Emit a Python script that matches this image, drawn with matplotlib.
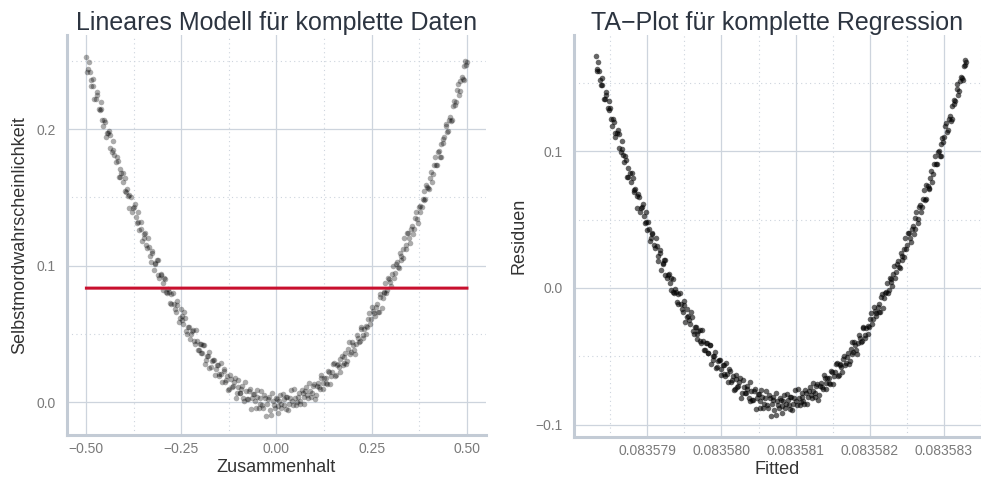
import numpy as np
import matplotlib.pyplot as plt
from matplotlib.ticker import MultipleLocator, FuncFormatter

# === Daten (zwei Teilstichproben) ===
zusammenhalt_a = [
    -0.499, -0.496, -0.489, -0.486, -0.481, -0.474, -0.471, -0.464, -0.461, -0.455,
    -0.449, -0.446, -0.439, -0.436, -0.429, -0.426, -0.420, -0.414, -0.411, -0.404,
    -0.399, -0.396, -0.389, -0.386, -0.380, -0.375, -0.370, -0.364, -0.361, -0.355,
    -0.349, -0.346, -0.340, -0.334, -0.330, -0.326, -0.319, -0.315, -0.311, -0.304,
    -0.299, -0.295, -0.290, -0.284, -0.280, -0.276, -0.269, -0.265, -0.260, -0.254,
    -0.249, -0.245, -0.240, -0.234, -0.230, -0.225, -0.219, -0.215, -0.210, -0.204,
    -0.199, -0.196, -0.190, -0.184, -0.180, -0.176, -0.169, -0.165, -0.160, -0.154,
    -0.150, -0.146, -0.139, -0.135, -0.130, -0.124, -0.120, -0.115, -0.110, -0.104,
    -0.100, -0.095, -0.090, -0.084, -0.080, -0.074, -0.070, -0.065, -0.059, -0.055,
    -0.050, -0.044, -0.040, -0.035, -0.029, -0.025, -0.020, -0.014, -0.010, -0.005,
    0.001, 0.004, 0.009, 0.013, 0.019, 0.024, 0.028, 0.033, 0.039, 0.043,
    0.048, 0.054, 0.058, 0.063, 0.069, 0.073, 0.078, 0.084, 0.088, 0.093,
    0.099, 0.103, 0.108, 0.114, 0.118, 0.123, 0.129, 0.133, 0.138, 0.144,
    0.148, 0.153, 0.159, 0.163, 0.168, 0.174, 0.178, 0.183, 0.189, 0.193,
    0.198, 0.204, 0.208, 0.213, 0.219, 0.223, 0.228, 0.234, 0.238, 0.243,
    0.249, 0.253, 0.258, 0.264, 0.268, 0.273, 0.279, 0.283, 0.288, 0.294,
    0.298, 0.303, 0.309, 0.313, 0.318, 0.324, 0.328, 0.333, 0.339, 0.343,
    0.348, 0.354, 0.358, 0.363, 0.369, 0.373, 0.378, 0.384, 0.388, 0.393,
    0.399, 0.403, 0.408, 0.414, 0.418, 0.423, 0.429, 0.433, 0.438, 0.444,
    0.448, 0.453, 0.459, 0.463, 0.468, 0.474, 0.478, 0.483, 0.489, 0.493,
    0.498,
]
selbstmord_a = [
    0.253, 0.244, 0.242, 0.232, 0.232, 0.222, 0.227, 0.214, 0.215, 0.202,
    0.205, 0.197, 0.199, 0.186, 0.185, 0.181, 0.180, 0.165, 0.171, 0.161,
    0.164, 0.154, 0.151, 0.152, 0.139, 0.143, 0.136, 0.139, 0.126, 0.127,
    0.120, 0.124, 0.113, 0.114, 0.103, 0.109, 0.101, 0.104, 0.093, 0.093,
    0.087, 0.091, 0.081, 0.083, 0.073, 0.079, 0.072, 0.066, 0.074, 0.062,
    0.063, 0.057, 0.062, 0.050, 0.055, 0.050, 0.053, 0.043, 0.045, 0.038,
    0.043, 0.036, 0.042, 0.031, 0.034, 0.025, 0.030, 0.031, 0.024, 0.027,
    0.019, 0.021, 0.024, 0.015, 0.019, 0.010, 0.017, 0.012, 0.018, 0.007,
    0.011, 0.007, 0.012, 0.001, 0.008, 0.002, 0.010, 0.003, 0.006, -0.004,
    0.004, -0.001, 0.008, -0.004, 0.003, -0.001, 0.004, -0.009, 0.001, -0.004,
    0.002, -0.003, 0.005, -0.001, 0.002, -0.005, 0.004, -0.001, 0.009, -0.002,
    0.003, 0.000, 0.007, -0.001, 0.007, 0.004, 0.011, 0.003, 0.008, 0.007,
    0.013, 0.005, 0.014, 0.010, 0.018, 0.014, 0.018, 0.013, 0.022, 0.019,
    0.028, 0.019, 0.027, 0.026, 0.032, 0.027, 0.033, 0.028, 0.039, 0.035,
    0.044, 0.038, 0.043, 0.047, 0.045, 0.054, 0.047, 0.056, 0.055, 0.065,
    0.061, 0.067, 0.063, 0.072, 0.066, 0.079, 0.076, 0.081, 0.080, 0.091,
    0.088, 0.094, 0.091, 0.101, 0.099, 0.109, 0.104, 0.112, 0.112, 0.124,
    0.120, 0.127, 0.123, 0.135, 0.134, 0.143, 0.139, 0.149, 0.148, 0.159,
    0.157, 0.164, 0.161, 0.174, 0.174, 0.183, 0.180, 0.189, 0.190, 0.202,
    0.198, 0.207, 0.206, 0.217, 0.218, 0.229, 0.225, 0.235, 0.237, 0.246,
    0.247,
]
zusammenhalt_b = [
    -0.497, -0.493, -0.487, -0.483, -0.478, -0.472, -0.467, -0.462, -0.457, -0.452,
    -0.447, -0.443, -0.437, -0.432, -0.428, -0.422, -0.417, -0.412, -0.408, -0.402,
    -0.397, -0.393, -0.387, -0.382, -0.378, -0.372, -0.367, -0.363, -0.357, -0.352,
    -0.348, -0.342, -0.337, -0.332, -0.327, -0.322, -0.318, -0.312, -0.308, -0.302,
    -0.297, -0.292, -0.287, -0.282, -0.278, -0.272, -0.267, -0.262, -0.257, -0.252,
    -0.247, -0.242, -0.237, -0.232, -0.227, -0.222, -0.217, -0.212, -0.207, -0.202,
    -0.197, -0.192, -0.187, -0.182, -0.177, -0.172, -0.167, -0.162, -0.157, -0.152,
    -0.147, -0.142, -0.137, -0.132, -0.127, -0.122, -0.117, -0.112, -0.107, -0.102,
    -0.097, -0.092, -0.087, -0.082, -0.077, -0.072, -0.067, -0.062, -0.057, -0.052,
    -0.047, -0.042, -0.037, -0.032, -0.027, -0.022, -0.017, -0.012, -0.007, -0.002,
    0.003, 0.007, 0.011, 0.016, 0.021, 0.026, 0.031, 0.036, 0.041, 0.046,
    0.051, 0.056, 0.061, 0.066, 0.071, 0.076, 0.081, 0.086, 0.091, 0.096,
    0.101, 0.106, 0.111, 0.116, 0.121, 0.126, 0.131, 0.136, 0.141, 0.146,
    0.151, 0.156, 0.161, 0.166, 0.171, 0.176, 0.181, 0.186, 0.191, 0.196,
    0.201, 0.206, 0.211, 0.216, 0.221, 0.226, 0.231, 0.236, 0.241, 0.246,
    0.251, 0.256, 0.261, 0.266, 0.271, 0.276, 0.281, 0.286, 0.291, 0.296,
    0.301, 0.306, 0.311, 0.316, 0.321, 0.326, 0.331, 0.336, 0.341, 0.346,
    0.351, 0.356, 0.361, 0.366, 0.371, 0.376, 0.381, 0.386, 0.391, 0.396,
    0.401, 0.406, 0.411, 0.416, 0.421, 0.426, 0.431, 0.436, 0.441, 0.446,
    0.451, 0.456, 0.461, 0.466, 0.471, 0.476, 0.481, 0.486, 0.491, 0.496,
    0.500,
]
selbstmord_b = [
    0.242, 0.249, 0.236, 0.237, 0.222, 0.225, 0.215, 0.220, 0.207, 0.207,
    0.194, 0.197, 0.196, 0.183, 0.191, 0.176, 0.177, 0.165, 0.168, 0.168,
    0.155, 0.156, 0.142, 0.150, 0.142, 0.145, 0.131, 0.132, 0.132, 0.118,
    0.123, 0.115, 0.120, 0.107, 0.111, 0.097, 0.102, 0.104, 0.091, 0.094,
    0.082, 0.090, 0.080, 0.081, 0.072, 0.080, 0.068, 0.071, 0.059, 0.068,
    0.060, 0.066, 0.052, 0.055, 0.046, 0.052, 0.045, 0.053, 0.038, 0.043,
    0.036, 0.042, 0.028, 0.034, 0.037, 0.026, 0.031, 0.020, 0.027, 0.021,
    0.029, 0.015, 0.023, 0.016, 0.009, 0.020, 0.011, 0.015, 0.003, 0.016,
    0.007, 0.010, 0.003, 0.015, 0.002, 0.008, -0.005, 0.006, 0.001, 0.009,
    -0.004, 0.003, -0.002, 0.005, -0.010, 0.002, -0.006, 0.007, -0.002, 0.003,
    -0.008, 0.001, -0.004, 0.006, -0.002, 0.004, -0.006, 0.003, 0.001, 0.010,
    -0.002, 0.004, 0.001, 0.009, -0.001, 0.008, 0.005, 0.014, 0.004, 0.012,
    0.002, 0.012, 0.011, 0.020, 0.010, 0.018, 0.014, 0.023, 0.013, 0.022,
    0.029, 0.020, 0.028, 0.022, 0.034, 0.029, 0.036, 0.030, 0.044, 0.037,
    0.042, 0.035, 0.049, 0.044, 0.055, 0.049, 0.054, 0.050, 0.061, 0.057,
    0.070, 0.065, 0.070, 0.066, 0.077, 0.069, 0.080, 0.087, 0.082, 0.090,
    0.085, 0.100, 0.095, 0.103, 0.098, 0.107, 0.106, 0.120, 0.115, 0.124,
    0.117, 0.129, 0.127, 0.139, 0.131, 0.144, 0.143, 0.155, 0.149, 0.158,
    0.156, 0.169, 0.167, 0.180, 0.174, 0.184, 0.180, 0.193, 0.194, 0.204,
    0.199, 0.209, 0.207, 0.221, 0.220, 0.233, 0.228, 0.238, 0.236, 0.250,
    0.249,
]

# Koeffizienten des linearen Modells (praktisch flach)
fit_intercept = 0.0835808
fit_slope = 5.0e-6

x = np.array(zusammenhalt_a + zusammenhalt_b)
y = np.array(selbstmord_a + selbstmord_b)
fitted = fit_intercept + fit_slope * x
residuen = y - fitted

# === Stil ===
plt.rcParams['font.family'] = ['Liberation Sans', 'DejaVu Sans']
grid_col = '#CDD4DD'
spine_col = '#C3CBD5'
title_col = '#2C3440'
label_col = '#333333'
tick_col = '#7A7A7A'


def fmt(digits):
    def f(v, pos):
        return f'{round(v, 9) + 0.0:.{digits}f}'.replace('-', '\u2212')
    return FuncFormatter(f)


def style_axes(ax):
    for s in ['top', 'right']:
        ax.spines[s].set_visible(False)
    for s in ['left', 'bottom']:
        ax.spines[s].set_color(spine_col)
        ax.spines[s].set_linewidth(2.2)
    ax.tick_params(which='both', length=0, labelsize=10, labelcolor=tick_col)
    ax.tick_params(axis='x', pad=5)
    ax.tick_params(axis='y', pad=8)
    ax.grid(which='major', color=grid_col, linewidth=0.9)
    ax.grid(which='minor', color=grid_col, linewidth=0.8, linestyle=(0, (1, 3)))
    ax.set_axisbelow(True)


fig = plt.figure(figsize=(9.81, 4.83), dpi=100)
ax1 = fig.add_axes([0.0683, 0.0994, 0.4271, 0.8281])
ax2 = fig.add_axes([0.585, 0.0952, 0.415, 0.8323])

# --- links: Lineares Modell ---
ax1.scatter(x, y, s=16, color='black', alpha=0.33, linewidths=0, zorder=2)
x_line = np.array([x.min(), x.max()])
ax1.plot(x_line, fit_intercept + fit_slope * x_line, color='#C8102E', linewidth=2.2, zorder=3)
ax1.set_xlim(-0.55, 0.55)
ax1.set_ylim(-0.024, 0.269)
ax1.xaxis.set_major_locator(MultipleLocator(0.25))
ax1.xaxis.set_minor_locator(MultipleLocator(0.125))
ax1.xaxis.set_major_formatter(fmt(2))
ax1.yaxis.set_major_locator(MultipleLocator(0.1))
ax1.yaxis.set_minor_locator(MultipleLocator(0.05))
ax1.yaxis.set_major_formatter(fmt(1))
style_axes(ax1)
ax1.set_title('Lineares Modell für komplette Daten', fontsize=18, color=title_col, pad=3)
ax1.set_xlabel('Zusammenhalt', fontsize=13, color=label_col, labelpad=2)
ax1.set_ylabel('Selbstmordwahrscheinlichkeit', fontsize=13, color=label_col, labelpad=6)

# --- rechts: TA-Plot ---
ax2.scatter(fitted, residuen, s=16, color='black', alpha=0.6, linewidths=0, zorder=2)
ax2.set_xlim(0.08357801, 0.0835835)
ax2.set_ylim(-0.109, 0.185)
ax2.xaxis.set_major_locator(MultipleLocator(1e-6))
ax2.xaxis.set_minor_locator(MultipleLocator(5e-7))
ax2.xaxis.set_major_formatter(fmt(6))
ax2.yaxis.set_major_locator(MultipleLocator(0.1))
ax2.yaxis.set_minor_locator(MultipleLocator(0.05))
ax2.yaxis.set_major_formatter(fmt(1))
style_axes(ax2)
ax2.set_title('TA\u2212Plot für komplette Regression', fontsize=18, color=title_col, pad=3)
ax2.set_xlabel('Fitted', fontsize=13, color=label_col, labelpad=2)
ax2.set_ylabel('Residuen', fontsize=13, color=label_col, labelpad=6)

fig.savefig('out.png', dpi=100)
